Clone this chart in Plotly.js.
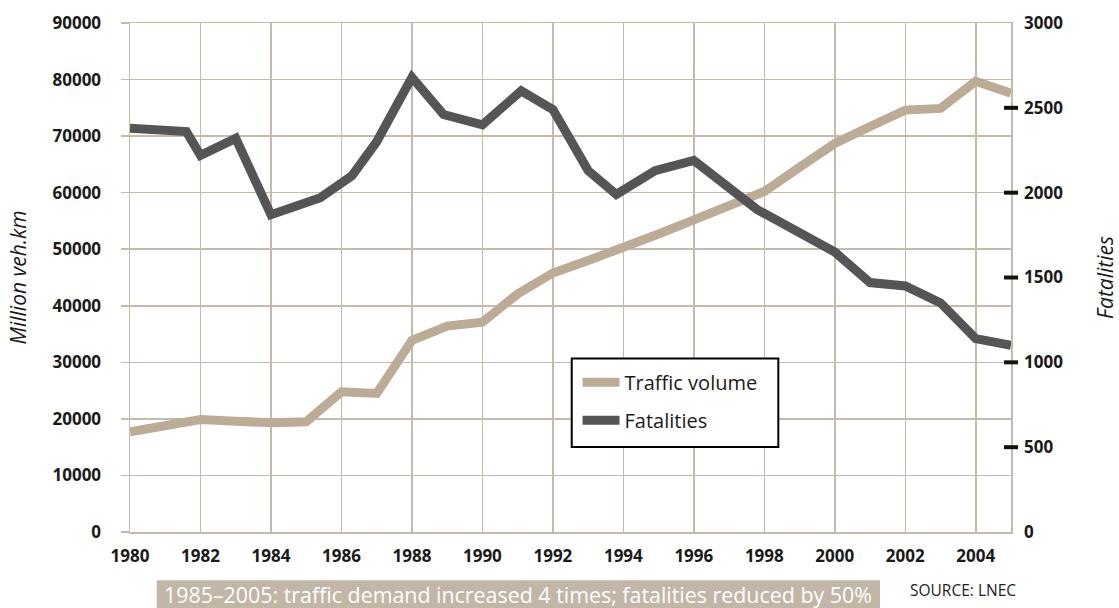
<!DOCTYPE html>
<html>
<head>
<meta charset="utf-8">
<script src="https://cdn.plot.ly/plotly-3.0.1.min.js"></script>
<style>
  html, body { margin: 0; padding: 0; background: #fff; }
  #chart { width: 1119px; height: 608px; }
</style>
</head>
<body>
<div id="chart"></div>
<script>
// ---- Data ----
const trafficYears = [1980, 1981, 1982, 1983, 1984, 1985, 1986, 1987, 1988, 1989, 1990, 1991, 1992,
                      1993, 1994, 1995, 1996, 1997, 1998, 1999, 2000, 2001, 2002, 2003, 2004, 2005];
const trafficVolume = [17700, 18800, 19900, 19600, 19300, 19500, 24800, 24500, 33900, 36400, 37100, 42100, 45800,
                       48000, 50200, 52700, 55200, 57600, 60200, 64500, 68700, 71700, 74600, 74900, 79700, 77600];

const fatalityYears = [1980, 1981.6, 1982, 1983, 1984, 1985.4, 1986.3, 1987, 1988, 1988.9, 1990, 1991.1, 1992,
                       1993, 1993.8, 1994.9, 1996, 1997.8, 2000, 2001, 2002, 2003, 2004, 2005];
const fatalities = [2380, 2360, 2220, 2320, 1870, 1970, 2100, 2300, 2680, 2460, 2400, 2600, 2490,
                    2130, 1990, 2130, 2190, 1900, 1650, 1470, 1450, 1350, 1140, 1100];

const xTickVals = [1980, 1982, 1984, 1986, 1988, 1990, 1992, 1994, 1996, 1998, 2000, 2002, 2004];
const leftTickVals = [0, 10000, 20000, 30000, 40000, 50000, 60000, 70000, 80000, 90000];
const leftTickText = ['0', '10000', '20000', '30000', '40000', '50000', '60000', '70000', '80000', '90000'];
const rightTickVals = [0, 500, 1000, 1500, 2000, 2500, 3000];
const rightTickText = ['0', '500', '1000', '1500', '2000', '2500', '3000'];
const rightDashVals = [500, 1000, 1500, 2000, 2500];

const seriesNames = ['Traffic volume', 'Fatalities'];
const axisTitles = ['Million veh.km', 'Fatalities'];
const captionText = '1985\u20132005: traffic demand increased 4 times; fatalities reduced by 50%';
const sourceText = 'SOURCE: LNEC';

// ---- Styles ----
const GRID = '#c6baab';
const TAN = '#bcab95';
const DARK = '#555555';
const TXT = '#1a1a1a';
const FONT = 'Open Sans, Noto Sans, sans-serif';
const tickFont = { family: FONT, size: 17, color: TXT, weight: 700 };

const traces = [
  {
    x: trafficYears, y: trafficVolume, name: seriesNames[0], type: 'scatter', mode: 'lines',
    line: { color: TAN, width: 9 }, xaxis: 'x', yaxis: 'y', legendgroup: 'a', hoverinfo: 'x+y'
  },
  {
    x: fatalityYears, y: fatalities, name: seriesNames[1], type: 'scatter', mode: 'lines',
    line: { color: DARK, width: 9 }, xaxis: 'x', yaxis: 'y2', legendgroup: 'b', hoverinfo: 'x+y'
  }
];

// black dash marks crossing the right axis line (tick decoration)
const dashShapes = rightDashVals.map(v => ({
  type: 'line', xref: 'paper', yref: 'y2', x0: 0.99205, x1: 1.00795, y0: v, y1: v,
  line: { color: '#111111', width: 4 }, layer: 'above'
}));

const layout = {
  width: 1119, height: 608,
  margin: { l: 130, r: 108, t: 23, b: 76, pad: 0 },
  paper_bgcolor: '#ffffff', plot_bgcolor: '#ffffff',
  font: { family: FONT, color: TXT },
  showlegend: true,
  legend: {
    x: 0.508, xanchor: 'left', y: 0.3325, yanchor: 'top',
    bgcolor: 'rgba(0,0,0,0)', borderwidth: 0,
    font: { family: FONT, size: 20, color: TXT },
    tracegroupgap: 9, itemwidth: 37
  },
  xaxis: {
    range: [1980, 2005], tickmode: 'array', tickvals: xTickVals,
    showgrid: true, gridcolor: GRID, gridwidth: 1.5,
    showline: true, linecolor: GRID, linewidth: 1.5, mirror: true,
    ticks: '', zeroline: false, tickfont: tickFont, ticklabelstandoff: 8,
    fixedrange: true
  },
  yaxis: {
    range: [0, 90000], tickmode: 'array', tickvals: leftTickVals, ticktext: leftTickText,
    showgrid: true, gridcolor: GRID, gridwidth: 1.5,
    showline: true, linecolor: GRID, linewidth: 1.5, mirror: true,
    ticks: 'outside', ticklen: 8, tickwidth: 1.5, tickcolor: GRID,
    zeroline: false, tickfont: tickFont, ticklabelstandoff: 16,
    title: { text: '<i>' + axisTitles[0] + '</i>', font: { family: FONT, size: 21, color: TXT }, standoff: 20 },
    fixedrange: true
  },
  yaxis2: {
    range: [0, 3000], overlaying: 'y', side: 'right', anchor: 'x',
    tickmode: 'array', tickvals: rightTickVals, ticktext: rightTickText,
    showgrid: false, showline: false, zeroline: false, ticks: '',
    tickfont: tickFont, ticklabelstandoff: 12,
    title: { text: '<i>' + axisTitles[1] + '</i>', font: { family: FONT, size: 21, color: TXT }, standoff: 37 },
    fixedrange: true
  },
  shapes: [
    // legend frame
    { type: 'rect', xref: 'paper', yref: 'paper', x0: 0.5014, x1: 0.7359, y0: 0.1672, y1: 0.3411,
      line: { color: '#000000', width: 2 }, fillcolor: '#ffffff', layer: 'above' },
    // caption band
    { type: 'rect', xref: 'paper', yref: 'paper', x0: 0.0303, x1: 0.8513, y0: -0.16, y1: -0.095,
      line: { width: 0 }, fillcolor: '#c2b6a6', layer: 'below' }
  ].concat(dashShapes),
  annotations: [
    { xref: 'paper', yref: 'paper', x: 0.4409, y: -0.1225, xanchor: 'center', yanchor: 'middle',
      text: captionText, showarrow: false, font: { family: FONT, size: 21.4, color: '#ffffff' } },
    { xref: 'paper', yref: 'paper', x: 0.9455, y: -0.1147, xanchor: 'center', yanchor: 'middle',
      text: sourceText, showarrow: false, font: { family: FONT, size: 15.5, color: '#222222' } }
  ]
};

Plotly.newPlot('chart', traces, layout, { displayModeBar: false, staticPlot: true });
</script>
</body>
</html>
